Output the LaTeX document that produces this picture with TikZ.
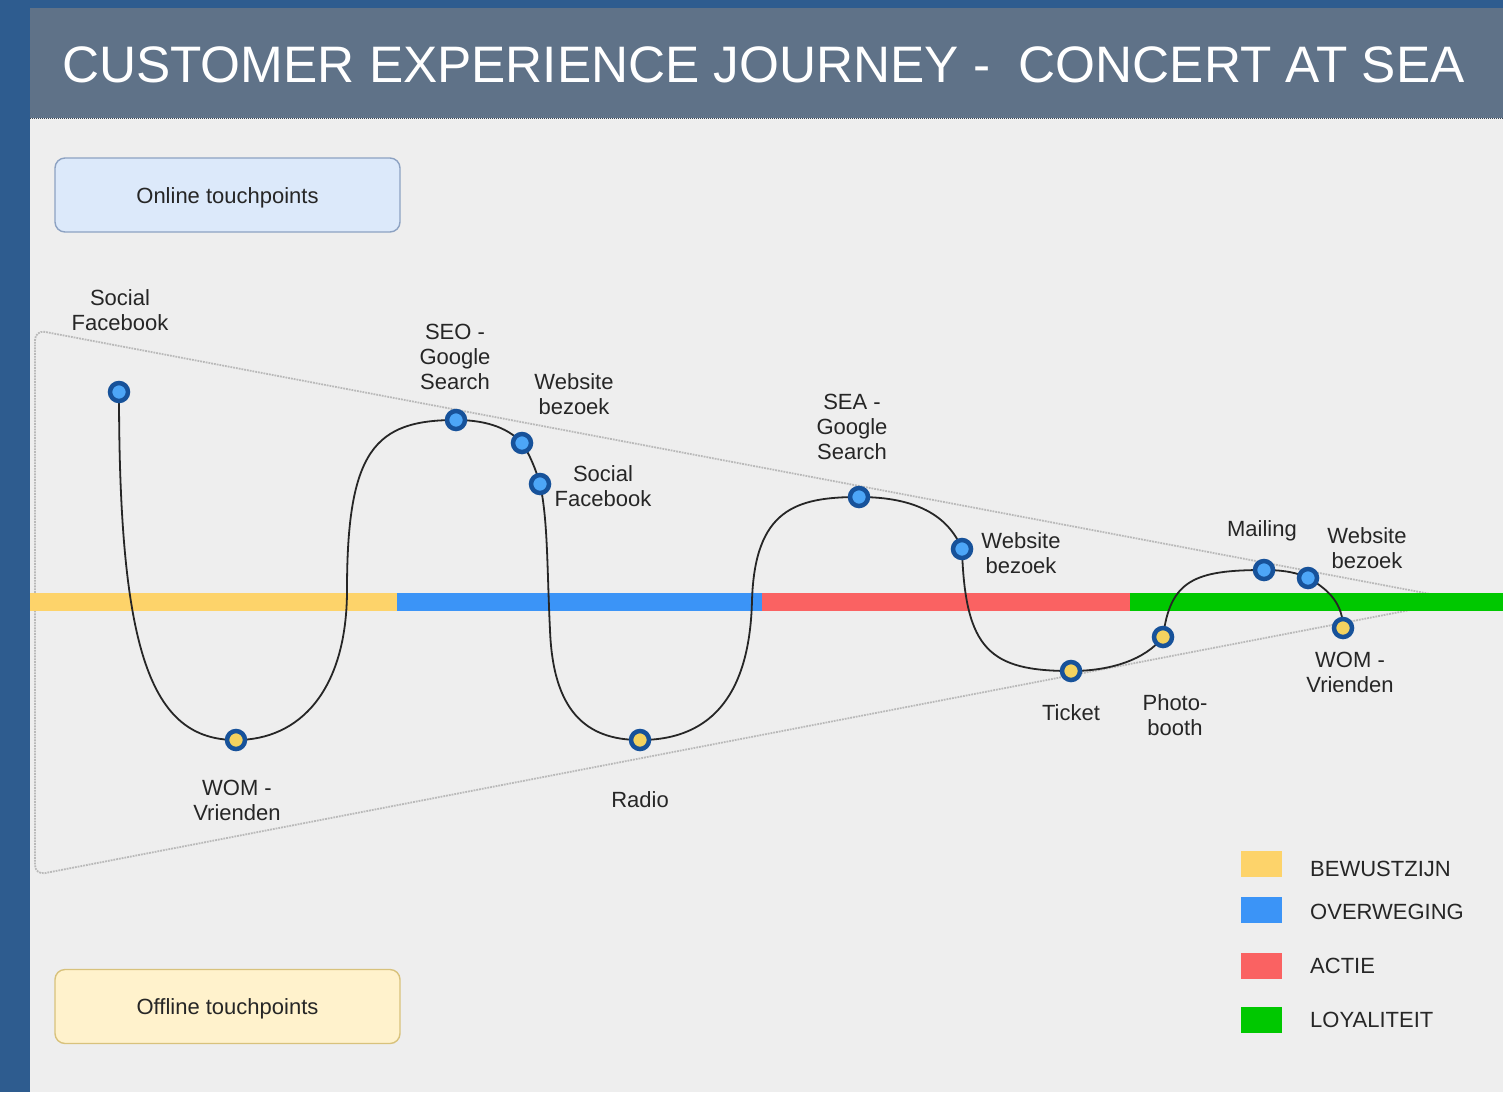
\documentclass[tikz,border=0pt]{standalone}
\usepackage{fontspec}
\setmainfont{Liberation Sans}
\usepackage{xcolor}
\usetikzlibrary{positioning,calc}

\definecolor{stripblue}{HTML}{2E5C8F}
\definecolor{titlegray}{HTML}{5F7288}
\definecolor{bggray}{HTML}{EEEEEE}
\definecolor{onlinefill}{HTML}{DCE9FA}
\definecolor{onlinedraw}{HTML}{8DA2C2}
\definecolor{offlinefill}{HTML}{FFF2CC}
\definecolor{offlinedraw}{HTML}{D8C27C}
\definecolor{phaseyellow}{HTML}{FDD36A}
\definecolor{phaseblue}{HTML}{3B94F7}
\definecolor{phasered}{HTML}{FA6262}
\definecolor{phasegreen}{HTML}{00C800}
\definecolor{ringblue}{HTML}{17529A}
\definecolor{dotblue}{HTML}{4DA6F7}
\definecolor{dotyellow}{HTML}{F3D25F}

\begin{document}
\begin{tikzpicture}[
	%	style def
    x=1pt, y=-1pt,
    journey line/.style={line width=1.8pt, black!85},
    funnel line/.style={densely dotted, line width=1.8pt, gray!55, rounded corners=10pt},
    online/.style={circle, draw=ringblue, line width=4.5pt, fill=dotblue, minimum size=18pt, inner sep=0pt},
    offline/.style={online, fill=dotyellow},
    touch text/.style={font=\fontsize{22}{25}\selectfont, text=black!85, align=center},
    touch box/.style={rounded corners=10pt, line width=1.4pt, minimum width=345pt, minimum height=74pt, touch text, text height=16pt, text depth=0pt},
    legend box/.style={minimum width=41pt, minimum height=26pt, inner sep=0pt},
    every node/.style={color=black}
    ]
	\useasboundingbox (0,0) rectangle (1503,1092);

	% page and title bar
	\fill[stripblue] (0,0) rectangle (1503,1092);
	\fill[bggray] (30,8) rectangle (1503,1092);
	\fill[titlegray] (30,8) rectangle (1503,118);
	\draw[densely dotted, line width=1pt, titlegray!60!black] (30,118) -- (1503,118);
	\node[anchor=base west, inner sep=0pt, text=white, font=\fontsize{51.3}{60}\selectfont] (title) at (62,82) {CUSTOMER EXPERIENCE JOURNEY -\ \ CONCERT AT SEA};

	% online / offline boxes
	\node[touch box, draw=onlinedraw, fill=onlinefill] (onlinebox) at (227.5,195) {Online touchpoints};
	\node[touch box, draw=offlinedraw, fill=offlinefill] (offlinebox) at (227.5,1006.5) {Offline touchpoints};

	% funnel
	\draw[funnel line] (1462,600) coordinate (tip) -- (35,330) coordinate (ftop) -- (35,875) coordinate (fbot) -- (tip);

	% phase bar
	\fill[phaseyellow] (30,593) rectangle (397,611);
	\fill[phaseblue] (397,593) rectangle (762,611);
	\fill[phasered] (762,593) rectangle (1130,611);
	\fill[phasegreen] (1130,593) rectangle (1503,611);

	% touchpoints
	\coordinate (p1) at (119,392);
	\coordinate (p2) at (236,740);
	\coordinate (p3) at (456,420);
	\coordinate (p4) at (522,443);
	\coordinate (p5) at (540,484);
	\coordinate (p6) at (640,740);
	\coordinate (p7) at (859,497);
	\coordinate (p8) at (962,549);
	\coordinate (p9) at (1071,671);
	\coordinate (p10) at (1163,637);
	\coordinate (p11) at (1264,570);
	\coordinate (p12) at (1308,578);
	\coordinate (p13) at (1343,628);

	% journey line
	\draw[journey line] (p1) .. controls (119,650) and (150,740) .. (p2)
		.. controls (300,740) and (347,690) .. (347,590)
		.. controls (347,450) and (375,420) .. (p3)
		.. controls (490,420) and (510,430) .. (p4)
		.. controls (530,455) and (536,470) .. (p5)
		.. controls (548,520) and (547,570) .. (550,630)
		.. controls (553,710) and (585,740) .. (p6)
		.. controls (715,740) and (750,690) .. (752,600)
		.. controls (755,510) and (795,497) .. (p7)
		.. controls (915,497) and (948,515) .. (p8)
		.. controls (965,650) and (990,671) .. (p9)
		.. controls (1110,671) and (1145,660) .. (p10)
		.. controls (1170,580) and (1195,570) .. (p11)
		.. controls (1285,570) and (1298,573) .. (p12)
		.. controls (1330,590) and (1343,605) .. (p13);

	% circles
	\node[online] (n1) at (p1) {};
	\node[offline] (n2) at (p2) {};
	\node[online] (n3) at (p3) {};
	\node[online] (n4) at (p4) {};
	\node[online] (n5) at (p5) {};
	\node[offline] (n6) at (p6) {};
	\node[online] (n7) at (p7) {};
	\node[online] (n8) at (p8) {};
	\node[offline] (n9) at (p9) {};
	\node[offline] (n10) at (p10) {};
	\node[online] (n11) at (p11) {};
	\node[online] (n12) at (p12) {};
	\node[offline] (n13) at (p13) {};

	% labels
	\node[touch text] (l1) at (120,310) {Social\\Facebook};
	\node[touch text] (l2) at (237,800) {WOM -\\Vrienden};
	\node[touch text] (l3) at (455,357) {SEO -\\Google\\Search};
	\node[touch text] (l4) at (574,394) {Website\\bezoek};
	\node[touch text] (l5) at (603,486) {Social\\Facebook};
	\node[touch text] (l6) at (640,800) {Radio};
	\node[touch text] (l7) at (852,427) {SEA -\\Google\\Search};
	\node[touch text] (l8) at (1021,553) {Website\\bezoek};
	\node[touch text] (l9) at (1071,713) {Ticket};
	\node[touch text] (l10) at (1175,715) {Photo-\\booth};
	\node[touch text] (l11) at (1262,531) {Mailing};
	\node[touch text] (l12) at (1367,548) {Website\\bezoek};
	\node[touch text] (l13) at (1350,672) {WOM -\\Vrienden};

	% legend
	\node[legend box, fill=phaseyellow] (kyellow) at (1261.5,863.5) {};
	\node[legend box, fill=phaseblue] (kblue) at (1261.5,910) {};
	\node[legend box, fill=phasered] (kred) at (1261.5,965.5) {};
	\node[legend box, fill=phasegreen] (kgreen) at (1261.5,1020) {};
	\node[touch text, anchor=west, inner sep=0pt] at (1310,869) {BEWUSTZIJN};
	\node[touch text, anchor=west, inner sep=0pt] at (1310,912) {OVERWEGING};
	\node[touch text, anchor=west, inner sep=0pt] at (1310,966) {ACTIE};
	\node[touch text, anchor=west, inner sep=0pt] at (1310,1020) {LOYALITEIT};
\end{tikzpicture}
\end{document}
